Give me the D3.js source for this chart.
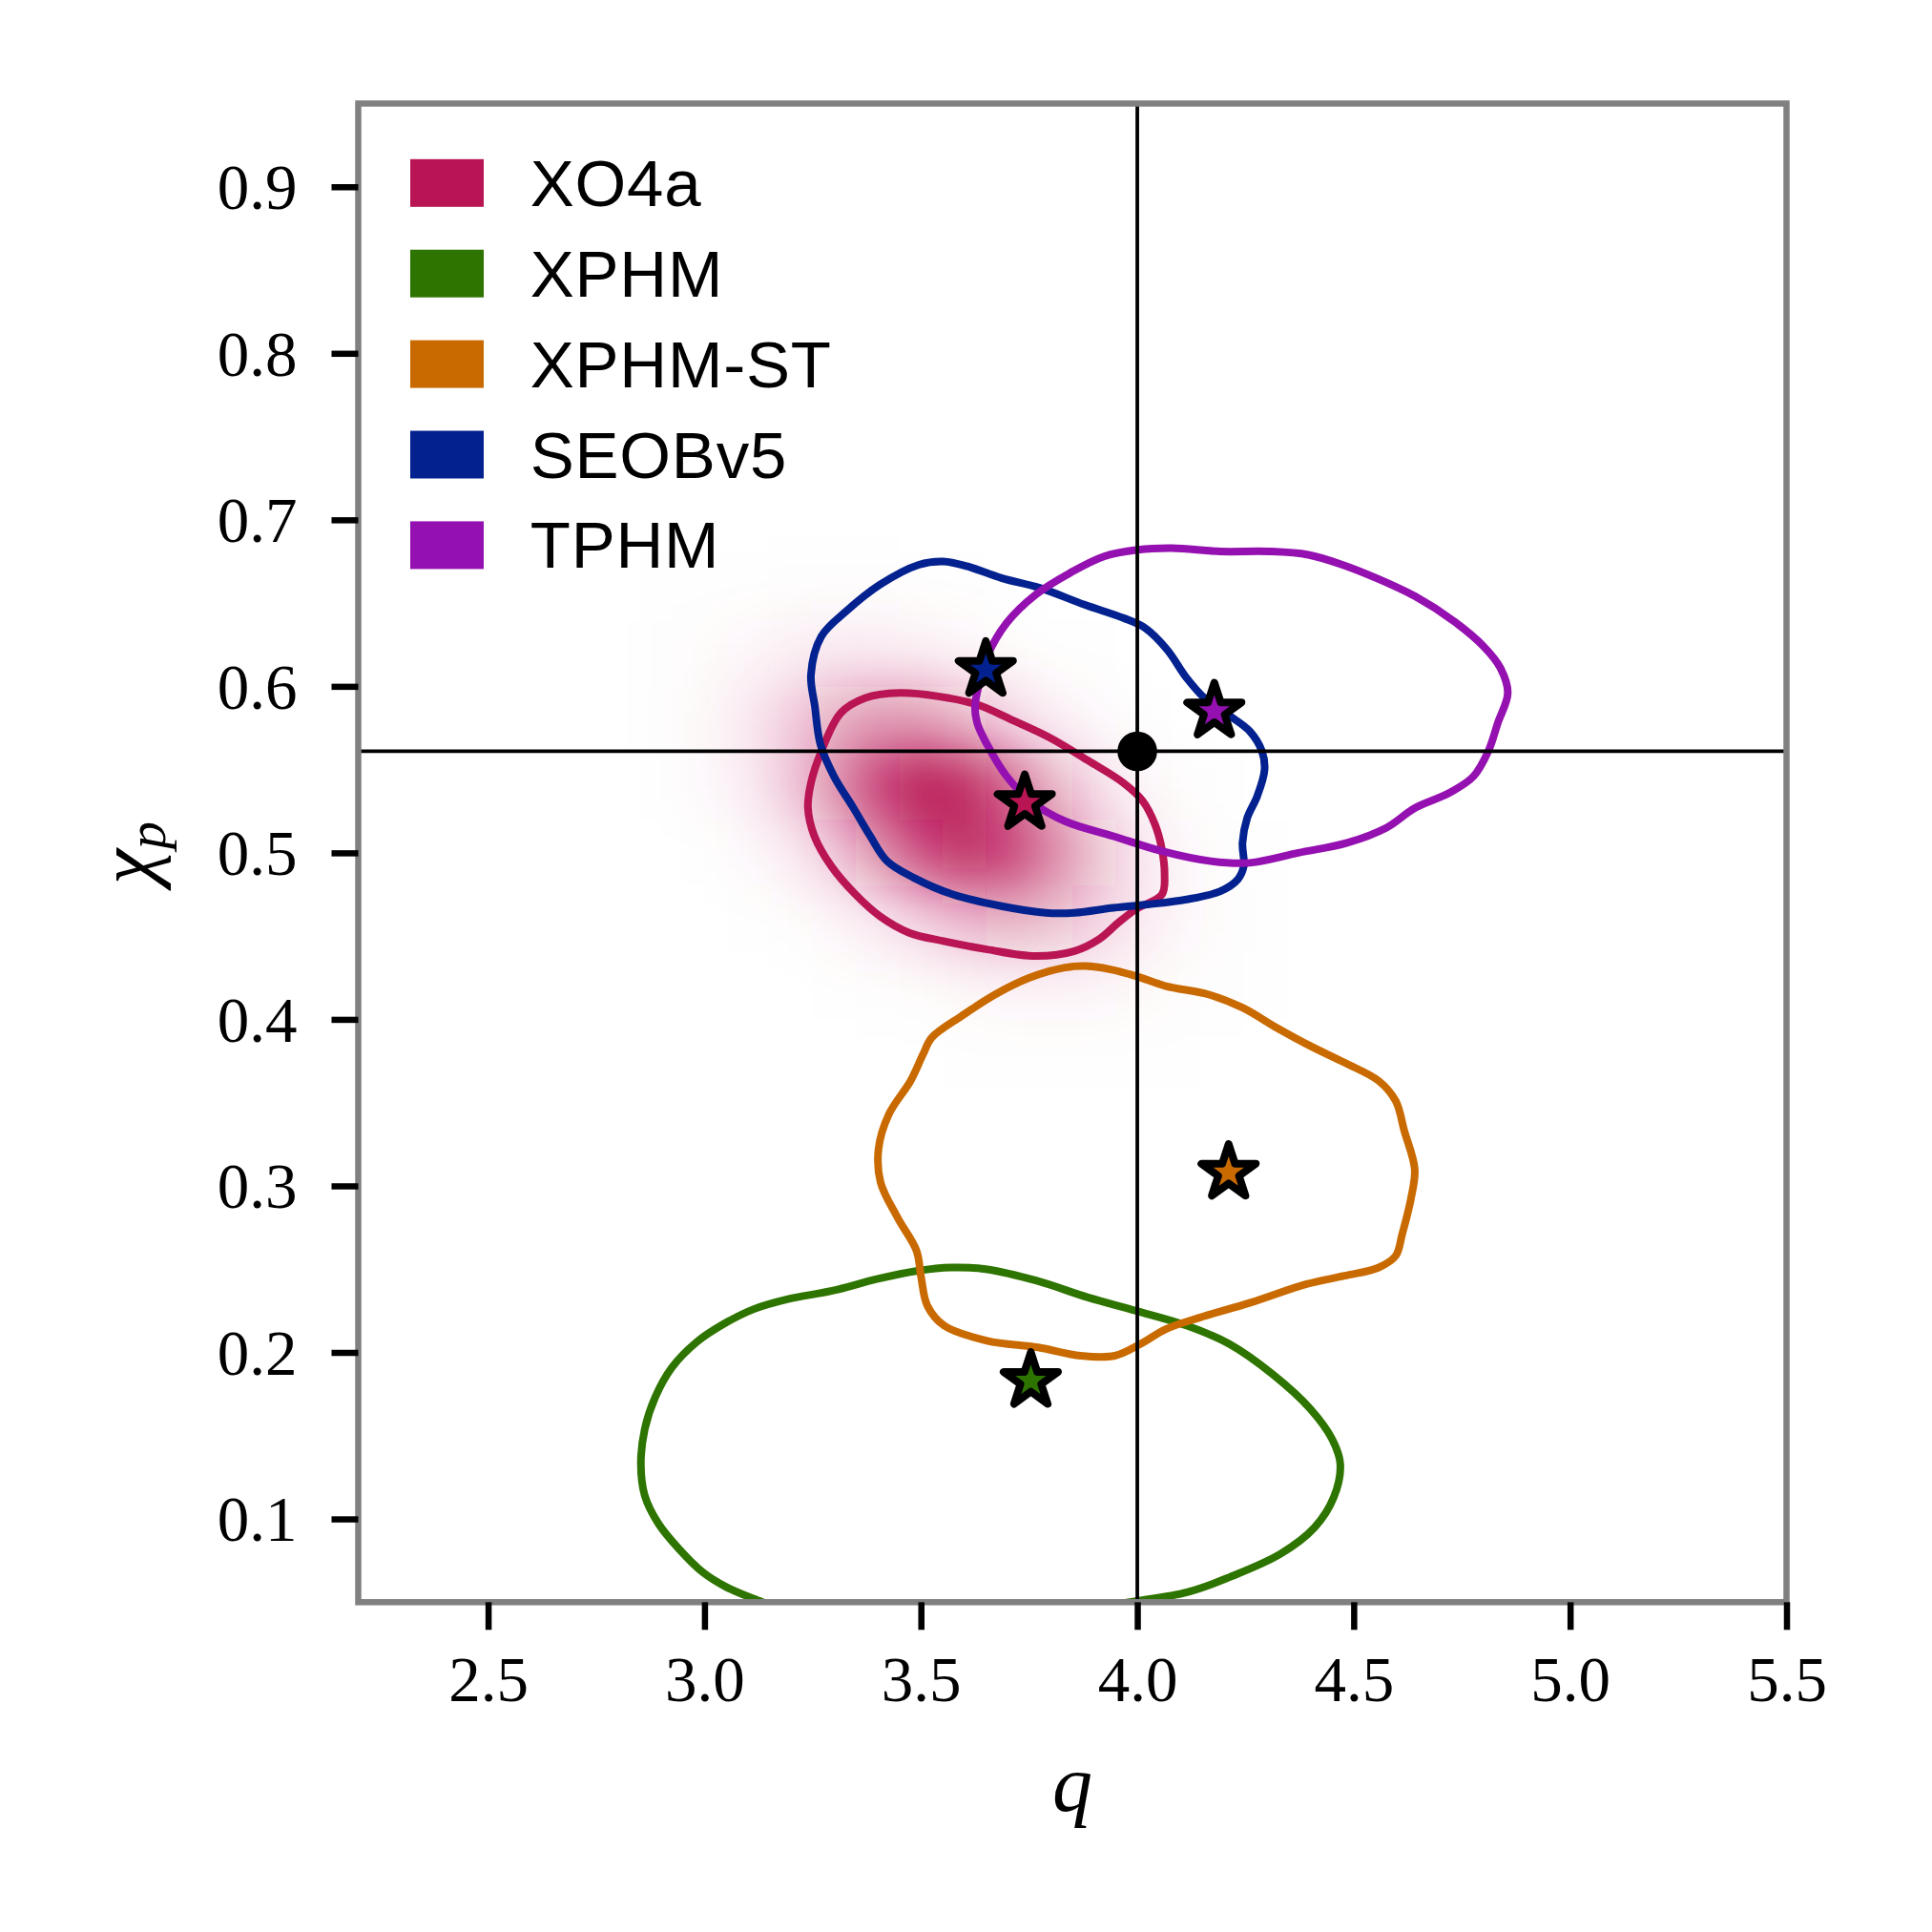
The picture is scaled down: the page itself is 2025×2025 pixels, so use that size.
<!DOCTYPE html>
<html>
<head>
<meta charset="utf-8">
<script src="https://cdn.jsdelivr.net/npm/d3@7"></script>
<style>
body { margin: 0; background: #fff; }
</style>
</head>
<body>
<script>
var WIDTH = 2025, HEIGHT = 2025
var plot = {left: 375.5, right: 1872.5, top: 108.5, bottom: 1679.3}

// axes
var xDomain = [2.2, 5.5]
var yDomain = [0.05, 0.95]
var xTicks = [2.5, 3.0, 3.5, 4.0, 4.5, 5.0, 5.5]
var yTicks = [0.1, 0.2, 0.3, 0.4, 0.5, 0.6, 0.7, 0.8, 0.9]

// runs
var names = ['XO4a', 'XPHM', 'XPHM-ST', 'SEOBv5', 'TPHM']
var colors = ['#b91454', '#2e7400', '#c96a00', '#03228f', '#9410b0']

// max-likelihood points (stars)
var peakQ = [3.740, 3.754, 4.211, 3.650, 4.178]
var peakChi = [0.530, 0.183, 0.308, 0.610, 0.585]

// injected value
var injQ = 4.0
var injChi = 0.561

// 90% contours, [q, chi_p]
var contourXO4a = [[3.315,0.584],[3.372,0.593],[3.450,0.596],[3.540,0.594],[3.630,0.589],[3.709,0.580],[3.799,0.569],[3.889,0.555],[3.968,0.542],[4.013,0.531],[4.041,0.517],[4.057,0.502],[4.063,0.487],[4.057,0.475],[3.996,0.466],[3.956,0.458],[3.911,0.448],[3.855,0.441],[3.765,0.438],[3.653,0.442],[3.552,0.447],[3.473,0.452],[3.405,0.462],[3.349,0.475],[3.293,0.492],[3.254,0.510],[3.239,0.527],[3.246,0.542],[3.270,0.561]]
var contourXPHM = [[3.960,0.049],[3.800,0.040],[3.500,0.032],[3.250,0.040],[3.114,0.052],[3.051,0.059],[2.996,0.068],[2.941,0.082],[2.894,0.097],[2.862,0.114],[2.853,0.133],[2.862,0.154],[2.886,0.173],[2.925,0.191],[2.981,0.206],[3.044,0.217],[3.114,0.226],[3.193,0.232],[3.295,0.237],[3.398,0.244],[3.492,0.249],[3.571,0.251],[3.650,0.250],[3.768,0.243],[3.886,0.233],[3.997,0.225],[4.115,0.216],[4.213,0.205],[4.312,0.187],[4.400,0.166],[4.450,0.148],[4.469,0.133],[4.454,0.113],[4.410,0.095],[4.331,0.079],[4.213,0.065],[4.115,0.056]]
var contourXPHMST = [[3.525,0.389],[3.594,0.402],[3.672,0.415],[3.751,0.425],[3.830,0.431],[3.879,0.432],[3.938,0.430],[3.997,0.426],[4.066,0.420],[4.164,0.415],[4.243,0.407],[4.322,0.395],[4.400,0.384],[4.479,0.374],[4.558,0.363],[4.597,0.351],[4.617,0.333],[4.641,0.310],[4.632,0.292],[4.612,0.271],[4.597,0.258],[4.558,0.251],[4.479,0.246],[4.391,0.241],[4.263,0.230],[4.145,0.221],[4.066,0.214],[4.007,0.205],[3.948,0.198],[3.869,0.198],[3.771,0.203],[3.653,0.207],[3.554,0.216],[3.515,0.228],[3.500,0.246],[3.490,0.261],[3.446,0.281],[3.407,0.302],[3.402,0.322],[3.426,0.343],[3.476,0.363],[3.505,0.379]]
var contourSEOB = [[3.246,0.607],[3.270,0.630],[3.327,0.645],[3.405,0.661],[3.495,0.673],[3.552,0.675],[3.608,0.672],[3.686,0.665],[3.776,0.659],[3.878,0.649],[3.968,0.641],[4.018,0.635],[4.069,0.622],[4.114,0.605],[4.159,0.592],[4.215,0.582],[4.260,0.573],[4.288,0.561],[4.294,0.550],[4.277,0.534],[4.254,0.521],[4.243,0.506],[4.246,0.492],[4.232,0.484],[4.192,0.477],[4.114,0.472],[4.024,0.469],[3.945,0.467],[3.855,0.464],[3.788,0.464],[3.686,0.468],[3.574,0.475],[3.484,0.485],[3.422,0.495],[3.383,0.510],[3.344,0.527],[3.299,0.546],[3.268,0.565],[3.255,0.588]]
var contourTPHM = [[3.625,0.588],[3.636,0.603],[3.653,0.618],[3.698,0.638],[3.765,0.655],[3.844,0.668],[3.923,0.678],[4.001,0.682],[4.080,0.683],[4.192,0.681],[4.305,0.681],[4.395,0.679],[4.474,0.673],[4.552,0.665],[4.642,0.654],[4.732,0.639],[4.800,0.624],[4.839,0.611],[4.856,0.596],[4.833,0.578],[4.811,0.561],[4.777,0.546],[4.721,0.536],[4.642,0.527],[4.575,0.515],[4.485,0.506],[4.372,0.500],[4.260,0.494],[4.170,0.495],[4.057,0.501],[3.945,0.510],[3.833,0.519],[3.754,0.531],[3.698,0.546],[3.653,0.565],[3.630,0.578]]
var contours = [contourXO4a, contourXPHM, contourXPHMST, contourSEOB, contourTPHM]

// XO4a posterior density (rows = chi, cols = q)
var densQ = [2.9, 3.0, 3.1, 3.2, 3.3, 3.4, 3.5, 3.6, 3.7, 3.8, 3.9, 4.0, 4.1, 4.2, 4.3, 4.4]
var densChi = [0.66, 0.62, 0.58, 0.54, 0.50, 0.46, 0.42, 0.38]
var densVals = [
	[0.01,0.01,0.01,0.02,0.02,0.02,0.01,0.01,0,0,0,0,0,0,0,0],
	[0.02,0.04,0.07,0.11,0.14,0.13,0.11,0.07,0.04,0.01,0.01,0,0,0,0,0],
	[0.02,0.06,0.15,0.28,0.42,0.51,0.49,0.38,0.24,0.12,0.05,0.02,0,0,0,0],
	[0.01,0.05,0.13,0.30,0.54,0.80,0.95,0.90,0.68,0.42,0.21,0.08,0.03,0.01,0,0],
	[0,0.01,0.05,0.13,0.29,0.52,0.75,0.87,0.81,0.60,0.36,0.17,0.07,0.02,0.01,0],
	[0,0,0.01,0.02,0.07,0.14,0.25,0.35,0.40,0.36,0.26,0.15,0.07,0.03,0.01,0],
	[0,0,0,0,0.01,0.02,0.03,0.06,0.08,0.09,0.08,0.06,0.03,0.02,0.01,0],
	[0,0,0,0,0,0,0,0.01,0.01,0.01,0.01,0.01,0.01,0,0,0]
]

var x = d3.scaleLinear().domain(xDomain).range([plot.left, plot.right])
var y = d3.scaleLinear().domain(yDomain).range([plot.bottom, plot.top])
// shading gets lighter toward the tails
var shade = d3.scalePow().exponent(1.3).domain([0, 1]).range([0, 1]).clamp(true)

var svg = d3.select('body').append('svg')
	.attr('width', WIDTH)
	.attr('height', HEIGHT)

var defs = svg.append('defs')
defs.append('clipPath').attr('id', 'plotclip')
	.append('rect')
	.attr('x', plot.left).attr('y', plot.top)
	.attr('width', plot.right - plot.left).attr('height', plot.bottom - plot.top)
defs.append('filter').attr('id', 'soft')
	.attr('filterUnits', 'userSpaceOnUse')
	.attr('x', 0).attr('y', 0).attr('width', WIDTH).attr('height', HEIGHT)
	.append('feGaussianBlur').attr('stdDeviation', '20 28')

// density shading
var cells = []
densVals.forEach(function(row, i){
	row.forEach(function(v, j){
		cells.push({q: densQ[j], chi: densChi[i], v: v})
	})
})
svg.append('g').attr('clip-path', 'url(#plotclip)')
	.append('g').attr('filter', 'url(#soft)')
	.selectAll('rect').data(cells).enter()
	.append('rect')
	.attr('x', function(d){ return x(d.q - 0.05) })
	.attr('y', function(d){ return y(d.chi + 0.02) })
	.attr('width', function(d){ return x(d.q + 0.05) - x(d.q - 0.05) })
	.attr('height', function(d){ return y(d.chi - 0.02) - y(d.chi + 0.02) })
	.attr('fill', colors[0])
	.attr('fill-opacity', function(d){ return shade(d.v * 1.05) })

// contours
var line = d3.line()
	.x(function(d){ return x(d[0]) })
	.y(function(d){ return y(d[1]) })
	.curve(d3.curveCatmullRomClosed.alpha(0.5))

svg.append('g').attr('clip-path', 'url(#plotclip)')
	.selectAll('.contour').data(contours).enter()
	.append('path')
	.classed('contour', true)
	.attr('d', line)
	.attr('fill', 'none')
	.attr('stroke', function(d, i){ return colors[i] })
	.attr('stroke-width', 8)
	.attr('stroke-linejoin', 'round')

// injection crosshair
var cross = svg.append('g').attr('clip-path', 'url(#plotclip)')
cross.append('line')
	.attr('x1', x(injQ)).attr('x2', x(injQ))
	.attr('y1', plot.top).attr('y2', plot.bottom)
	.attr('stroke', '#000').attr('stroke-width', 3.8)
cross.append('line')
	.attr('x1', plot.left).attr('x2', plot.right)
	.attr('y1', y(injChi)).attr('y2', y(injChi))
	.attr('stroke', '#000').attr('stroke-width', 3.8)

// stars
var star = d3.symbol().type(d3.symbolStar).size(1010)
svg.append('g').selectAll('.star').data(names).enter()
	.append('path')
	.classed('star', true)
	.attr('d', star)
	.attr('transform', function(d, i){ return 'translate(' + x(peakQ[i]) + ',' + y(peakChi[i]) + ')' })
	.attr('fill', function(d, i){ return colors[i] })
	.attr('stroke', '#000')
	.attr('stroke-width', 8)
	.attr('stroke-linejoin', 'round')

cross.append('circle')
	.attr('cx', x(injQ)).attr('cy', y(injChi))
	.attr('r', 20.8)
	.attr('fill', '#000')

// spines
svg.append('rect')
	.attr('x', plot.left).attr('y', plot.top)
	.attr('width', plot.right - plot.left).attr('height', plot.bottom - plot.top)
	.attr('fill', 'none')
	.attr('stroke', '#808080')
	.attr('stroke-width', 6.5)

// axes
var fmt = d3.format('.1f')
var xAxis = svg.append('g')
	.attr('transform', 'translate(0,' + plot.bottom + ')')
	.call(d3.axisBottom(x).tickValues(xTicks).tickFormat(fmt).tickSize(29).tickSizeOuter(0))
var yAxis = svg.append('g')
	.attr('transform', 'translate(' + plot.left + ',0)')
	.call(d3.axisLeft(y).tickValues(yTicks).tickFormat(fmt).tickSize(28).tickSizeOuter(0))

svg.selectAll('.domain').remove()
svg.selectAll('.tick line').attr('stroke', '#000').attr('stroke-width', 6.5)
svg.selectAll('.tick text')
	.attr('fill', '#000')
	.style('font-family', '"Liberation Serif", "DejaVu Serif", serif')
	.style('font-size', '67px')
xAxis.selectAll('.tick text').attr('y', 104).attr('dy', 0)
yAxis.selectAll('.tick text').attr('x', -64).attr('dy', '0.34em')

// axis labels
svg.append('text')
	.attr('x', (plot.left + plot.right) / 2)
	.attr('y', 1898)
	.attr('text-anchor', 'middle')
	.style('font-family', '"Liberation Serif", serif')
	.style('font-style', 'italic')
	.style('font-size', '84px')
	.text('q')

var ylab = svg.append('text')
	.attr('transform', 'translate(161,' + ((plot.top + plot.bottom) / 2) + ') rotate(-90)')
	.attr('text-anchor', 'middle')
	.style('font-family', '"Liberation Serif", serif')
	.style('font-style', 'italic')
	.style('font-size', '84px')
ylab.append('tspan').text('χ')
ylab.append('tspan').attr('dy', 12).style('font-size', '58px').text('p')

// legend
var legend = svg.append('g').selectAll('.leg').data(names).enter()
	.append('g')
	.classed('leg', true)
	.attr('transform', function(d, i){ return 'translate(430,' + (166.8 + i * 94.9) + ')' })
legend.append('rect')
	.attr('width', 77).attr('height', 50)
	.attr('fill', function(d, i){ return colors[i] })
legend.append('text')
	.attr('x', 125.7).attr('y', 49)
	.style('font-family', '"Liberation Sans", Arial, sans-serif')
	.style('font-size', '69px')
	.style('letter-spacing', '0.8px')
	.attr('fill', '#000')
	.text(function(d){ return d })
</script>
</body>
</html>
